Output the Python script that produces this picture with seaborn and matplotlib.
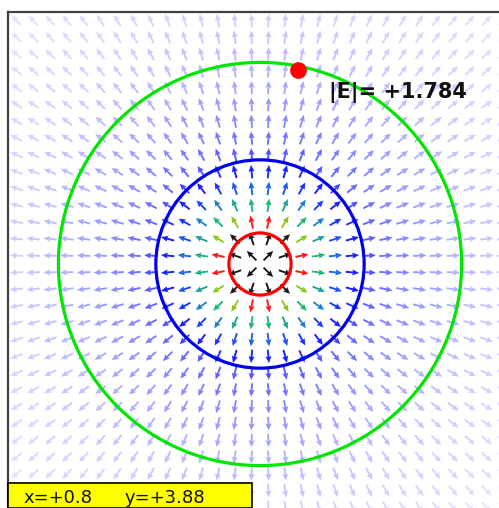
import numpy as np
import matplotlib
matplotlib.use("Agg")
import matplotlib.pyplot as plt
from matplotlib.patches import Circle, Rectangle
import seaborn as sns

sns.set_style("white")
plt.rcParams['font.family'] = ['DejaVu Sans']

# ---- data ----
grid_x = np.arange(-14.5, 15.0, 1.0)          # arrow grid columns
grid_y = np.arange(-14.5, 15.0, 1.0)          # arrow grid rows
charge = 1.0
circle_radii = [1.85, 6.2, 12.0]
circle_colors = ["#ff0000", "#0000ee", "#00e600"]
probe_x = [2.28]
probe_y = [11.55]
field_label = "|E|= +1.784"
readout_x = "x=+0.8"
readout_y = "y=+3.88"

# colour stops: equivalent distance -> colour
stop_r = [2.25, 2.35, 2.72, 2.8, 3.15, 3.35, 3.75, 4.3, 4.9, 5.8, 6.6, 8.5, 11.5, 15.0, 20.0]
stop_c = ["#1a1a1a", "#ff1a1a", "#ff1a1a", "#8cc820", "#8cc820", "#20c060",
          "#20a890", "#2080d0", "#1a40ff", "#1818ff", "#5a5aff", "#8a8aff",
          "#b4b4ff", "#d2d2ff", "#e2e2ff"]

# ---- figure ----
W, H = 499, 508
fig = plt.figure(figsize=(W / 100, H / 100), dpi=100)
fig.patch.set_facecolor("white")
ax = fig.add_axes([8 / W, 1 - (12 + 504) / H, 504 / W, 504 / H])
ax.set_xlim(-15, 15)
ax.set_ylim(-15, 15)
ax.set_xticks([])
ax.set_yticks([])
for s in ax.spines.values():
    s.set_color("#404040")
    s.set_linewidth(1.6)

X, Y = np.meshgrid(grid_x, grid_y)
R = np.hypot(X, Y)
Ex = charge * X / R**3
Ey = charge * Y / R**3
Emag = np.hypot(Ex, Ey)
U = Ex / Emag
V = Ey / Emag

# colour by magnitude (via equivalent radius)
req = np.sqrt(charge / Emag).ravel()
rgb = np.array([matplotlib.colors.to_rgb(c) for c in stop_c])
cols = np.column_stack([np.interp(req, stop_r, rgb[:, k]) for k in range(3)])

ax.quiver(X.ravel(), Y.ravel(), 0.8 * U.ravel(), 0.8 * V.ravel(), color=cols,
          angles="xy", scale_units="xy", scale=1, pivot="mid",
          width=0.0038, headwidth=3.2, headlength=3.6, headaxislength=3.2,
          zorder=2)

for r, c in zip(circle_radii, circle_colors):
    ax.add_patch(Circle((0, 0), r, fill=False, edgecolor=c, linewidth=2.3, zorder=3))

ax.plot(probe_x, probe_y, "o", color="#ff0000", markersize=11, zorder=4)
ax.text(4.1, 9.88, field_label, fontsize=15, fontweight="bold", color="#111111",
        ha="left", va="baseline", zorder=5)

# readout box
fig.patches.append(Rectangle((8 / W, 0), 244 / W, (508 - 483) / H,
                             transform=fig.transFigure, facecolor="#ffff00",
                             edgecolor="black", linewidth=1.2, zorder=10))
fig.text(23 / W, 1 - 503 / H, readout_x, fontsize=13, color="#111111",
         ha="left", va="baseline", zorder=11)
fig.text(125 / W, 1 - 503 / H, readout_y, fontsize=13, color="#111111",
         ha="left", va="baseline", zorder=11)

fig.savefig("out.png", dpi=100)
